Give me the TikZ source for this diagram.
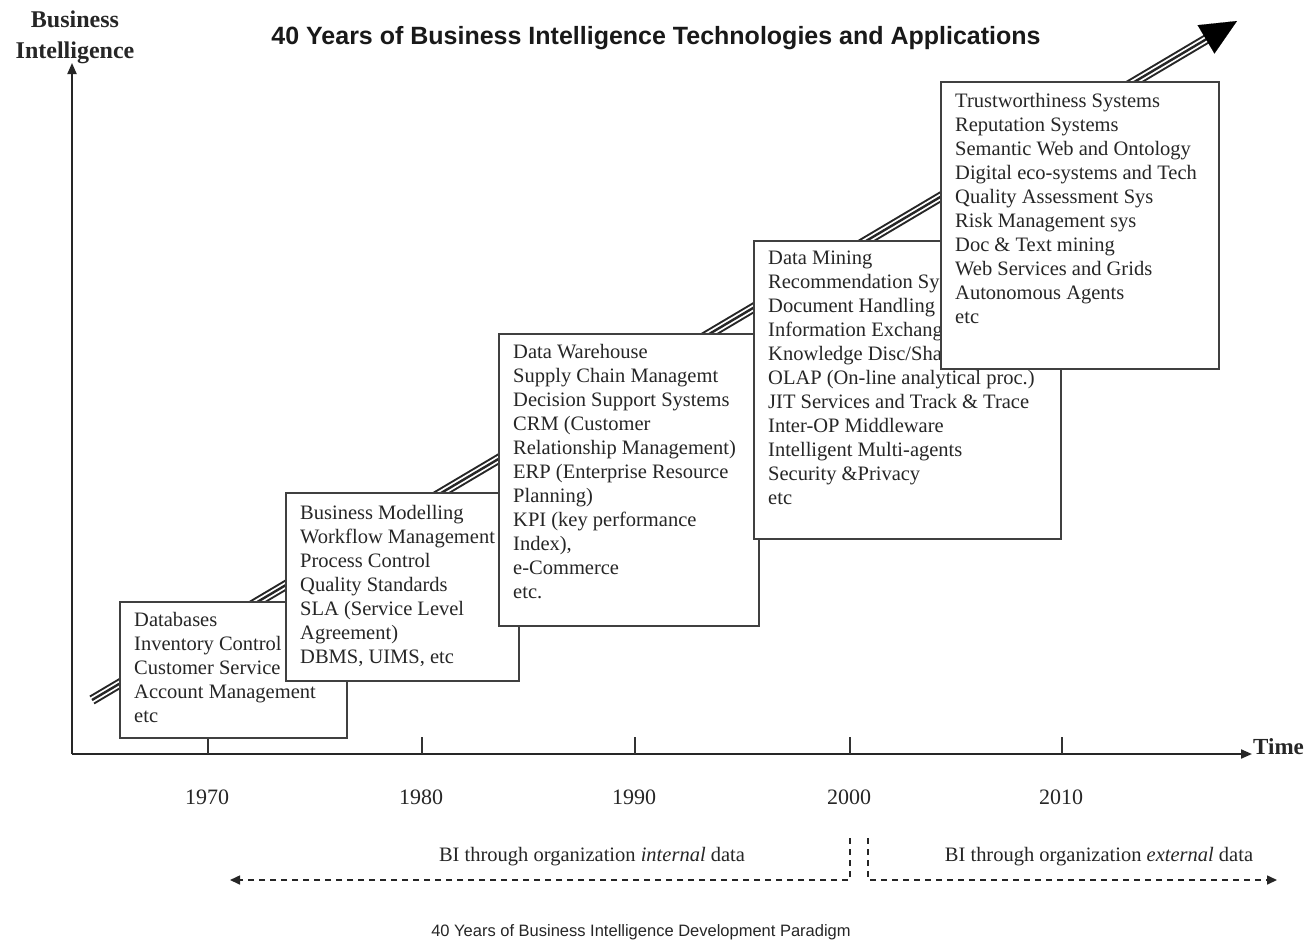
\documentclass[tikz,border=0pt]{standalone}
\usepackage{fontspec}
\setmainfont{Liberation Serif}
\newfontfamily\arialf{Liberation Sans}
\usetikzlibrary{arrows.meta,calc}
\begin{document}
\begin{tikzpicture}[x=1pt,y=-1pt,
  box/.style={draw=black!75, line width=1.5pt, fill=white, anchor=north west, inner sep=0pt},
  txt/.style={anchor=north west, align=left, inner sep=0pt, text=black!85, font=\fontsize{20.5}{24}\selectfont},
  axis/.style={line width=2pt, black!85, -{Triangle[length=11pt,width=9pt]}},
  tick/.style={line width=1.6pt, black!80},
  year/.style={font=\fontsize{22}{26}\selectfont, text=black!85},
  dsh/.style={line width=1.6pt, black!85, dash pattern=on 6pt off 5pt},
  dsharrow/.style={dsh, -{Triangle[length=10pt,width=9pt]}},
  bottomlab/.style={font=\fontsize{20.5}{24}\selectfont, text=black!85}
]
\useasboundingbox (0,0) rectangle (1312,943);
\fill[white] (0,0) rectangle (1312,943);

% axes
\coordinate (O) at (72,754);
\coordinate (ytop) at (72,63);
\coordinate (xend) at (1252,754);
\draw[axis] (O) -- (ytop);
\draw[axis] (O) -- (xend);
\node[font=\bfseries\fontsize{24}{31}\selectfont, align=center, text=black!85] (ylab) at (75,37) {Business\\Intelligence};
\node[anchor=west, inner sep=0pt, font=\bfseries\fontsize{23}{26}\selectfont, text=black!85] (tlab) at (1253,747) {Time};

% ticks and years
\foreach \x/\yr in {208/1970,422/1980,635/1990,850/2000,1062/2010}{
  \coordinate (tk\yr) at (\x,737);
  \draw[tick] (tk\yr) -- (\x,754);
  \node[year] (y\yr) at (\x-1,797) {\yr};
}

% title
\node[font=\arialf\bfseries\fontsize{25}{30}\selectfont, text=black!90] (title) at (656,38) {40 Years of Business Intelligence Technologies and Applications};

% diagonal triple-line arrow
\coordinate (ds) at (92,700);
\coordinate (de) at (1237,21);
\coordinate (db) at ($(de)!34pt!(ds)$);
\draw[line width=10pt, black!85] (ds) -- (db);
\draw[line width=6pt, white] ($(ds)!-1pt!(db)$) -- (db);
\draw[line width=2.4pt, black!85] (ds) -- (db);
\draw[line width=0.1pt, black, -{Triangle[length=36pt,width=33pt]}] ($(de)!40pt!(ds)$) -- (de);

% boxes
\node[box, minimum width=227pt, minimum height=136pt] (b1) at (119,601) {};
\node[txt] (t1) at (134,609) {\strut Databases\\Inventory Control\\Customer Service\\Account Management\\etc};

\node[box, minimum width=233pt, minimum height=188pt] (b2) at (285,492) {};
\node[txt] (t2) at (300,502) {\strut Business Modelling\\Workflow Management\\Process Control\\Quality Standards\\SLA (Service Level\\Agreement)\\DBMS, UIMS, etc};

\node[box, minimum width=260pt, minimum height=292pt] (b3) at (498,333) {};
\node[txt] (t3) at (513,341) {\strut Data Warehouse\\Supply Chain Managemt\\Decision Support Systems\\CRM (Customer\\Relationship Management)\\ERP (Enterprise Resource\\Planning)\\KPI (key performance\\Index),\\e-Commerce\\etc.};

\node[box, minimum width=307pt, minimum height=298pt] (b4) at (753,240) {};
\node[txt] (t4) at (768,247) {\strut Data Mining\\Recommendation Systems\\Document Handling\\Information Exchange\\Knowledge Disc/Sharing\\OLAP (On-line analytical proc.)\\JIT Services and Track \& Trace\\Inter-OP Middleware\\Intelligent Multi-agents\\Security \&Privacy\\etc};

\node[box, minimum width=278pt, minimum height=287pt] (b5) at (940,81) {};
\node[txt] (t5) at (955,90) {\strut Trustworthiness Systems\\Reputation Systems\\Semantic Web and Ontology\\Digital eco-systems and Tech\\Quality Assessment Sys\\Risk Management sys\\Doc \& Text mining\\Web Services and Grids\\Autonomous Agents\\etc};

% bottom paradigm arrows
\coordinate (lv) at (850,838);
\coordinate (lc) at (850,880);
\coordinate (le) at (230,880);
\coordinate (rv) at (868,838);
\coordinate (rc) at (868,880);
\coordinate (re) at (1277,880);
\draw[dsharrow] (lv) -- (lc) -- (le);
\draw[dsharrow] (rv) -- (rc) -- (re);
\node[bottomlab] (lint) at (592,857) {BI through organization \textit{internal} data};
\node[bottomlab] (lext) at (1099,857) {BI through organization \textit{external} data};

\node[font=\arialf\fontsize{16.5}{20}\selectfont, text=black!85] (cap) at (641,932) {40 Years of Business Intelligence Development Paradigm};
\end{tikzpicture}
\end{document}
